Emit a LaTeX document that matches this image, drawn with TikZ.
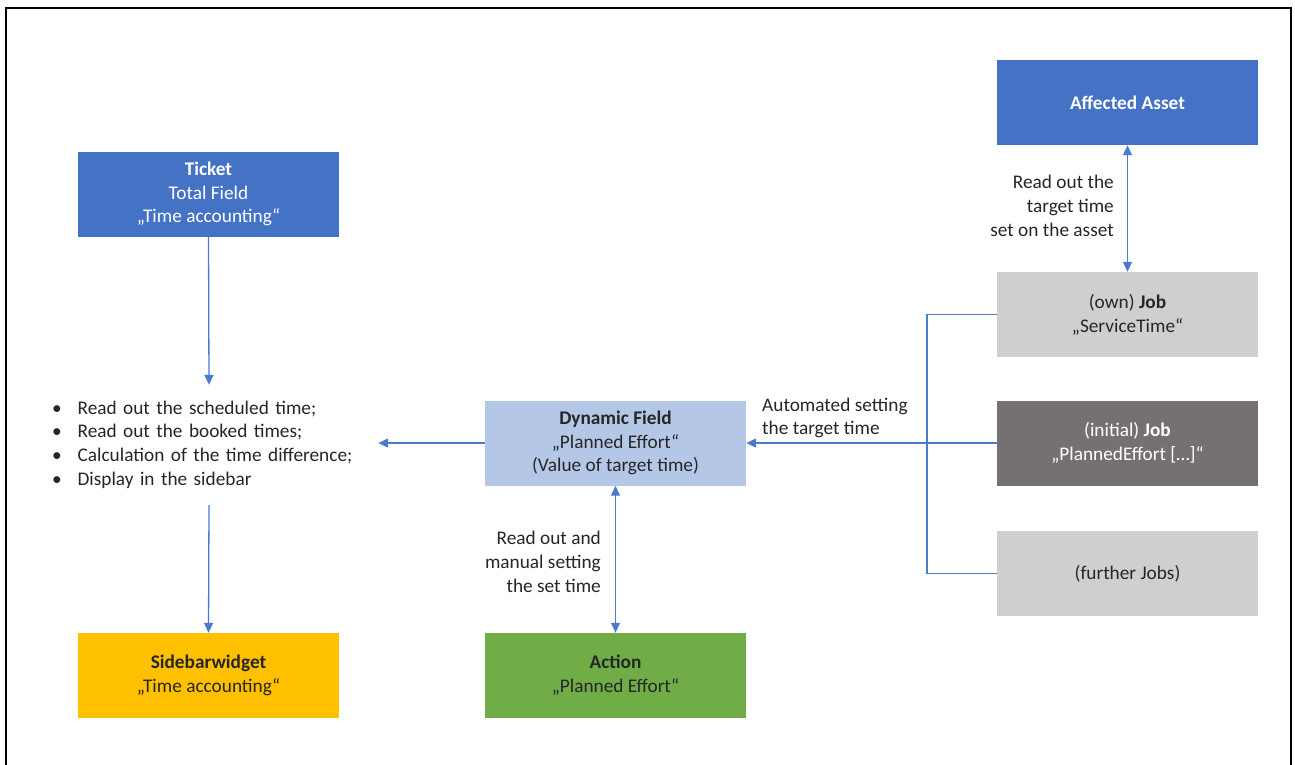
\documentclass[tikz,border=0pt]{standalone}
\usepackage{fontspec}
\setmainfont{Carlito}
\usetikzlibrary{arrows.meta}
\definecolor{cblue}{HTML}{4472C4}
\definecolor{clight}{HTML}{B4C7E7}
\definecolor{cgreen}{HTML}{70AD47}
\definecolor{cyellow}{HTML}{FFC000}
\definecolor{cgrayl}{HTML}{D0CECE}
\definecolor{cgrayd}{HTML}{767171}
\definecolor{ctext}{HTML}{262626}
\definecolor{cline}{HTML}{4A7BD0}
\tikzset{
  box/.style={rectangle, minimum width=261pt, minimum height=85pt, inner sep=0pt, align=center,
    font=\fontsize{19.3}{23.8}\selectfont},
  conn/.style={draw=cline, line width=1.3pt},
  arr/.style={conn, -{Triangle[length=10pt,width=9pt]}},
  darr/.style={conn, {Triangle[length=10pt,width=9pt]}-{Triangle[length=10pt,width=9pt]}},
  lbl/.style={inner sep=0pt, text=ctext, font=\fontsize{19.3}{23.8}\selectfont}
}
\begin{document}
\begin{tikzpicture}[x=1pt,y=-1pt]
\useasboundingbox (0,0) rectangle (1295,764);
\begin{scope}
\clip (0,0) rectangle (1295,764);
\draw[line width=1.5pt, black] (6,8) rectangle (1291,790);
\end{scope}
% nodes
\node[box, fill=cblue, text=white] (ticket) at (208.5,194) {\textbf{Ticket}\\Total Field\\„Time accounting“};
\node[box, fill=cyellow, text=ctext] (sidebar) at (208.5,675.5) {\textbf{Sidebarwidget}\\„Time accounting“};
\node[box, fill=clight, text=ctext] (dyn) at (615.5,443) {\textbf{Dynamic Field}\\„Planned Effort“\\(Value of target time)};
\node[box, fill=cgreen, text=ctext] (action) at (615.5,675.5) {\textbf{Action}\\„Planned Effort“};
\node[box, fill=cblue, text=white] (asset) at (1127.5,102.5) {\textbf{Affected Asset}};
\node[box, fill=cgrayl, text=ctext] (ownjob) at (1127.5,314.5) {(own) \textbf{Job}\\„ServiceTime“};
\node[box, fill=cgrayd, text=white] (initjob) at (1127.5,443) {(initial) \textbf{Job}\\„PlannedEffort […]“};
\node[box, fill=cgrayl, text=ctext] (further) at (1127.5,573.5) {(further Jobs)};
% list
\node[minimum width=338pt, minimum height=120pt, inner xsep=12pt, inner ysep=0pt, text=ctext,
  font=\fontsize{19.3}{23.8}\selectfont, align=left, text width=314pt] (list) at (209,445)
  {\begin{tabular}{@{}l@{\hspace{16pt}}l@{}}
   • & Read out the scheduled time;\\
   • & Read out the booked times;\\
   • & Calculation of the time difference;\\
   • & Display in the sidebar
   \end{tabular}};
% connectors
\draw[arr] (ticket.south) -- (list.north);
\draw[arr] (list.south) -- (sidebar.north);
\draw[arr] (dyn.west) -- (list.east |- dyn.west);
\draw[darr] (dyn.south) -- (action.north);
\draw[darr] (asset.south) -- (ownjob.north);
\coordinate (br) at (927,443);
\draw[conn] (ownjob.west) -- (ownjob.west -| br) -- (further.west -| br) -- (further.west);
\draw[arr] (initjob.west) -- (dyn.east);
% labels
\node[lbl, anchor=west, align=left] (lauto) at (762,418) {Automated setting\\the target time};
\node[lbl, anchor=east, align=right] (lman) at (601,562) {Read out and\\manual setting\\the set time};
\node[lbl, anchor=east, align=right] (lasset) at (1114,206) {Read out the\\target time\\set on the asset};
\end{tikzpicture}
\end{document}
